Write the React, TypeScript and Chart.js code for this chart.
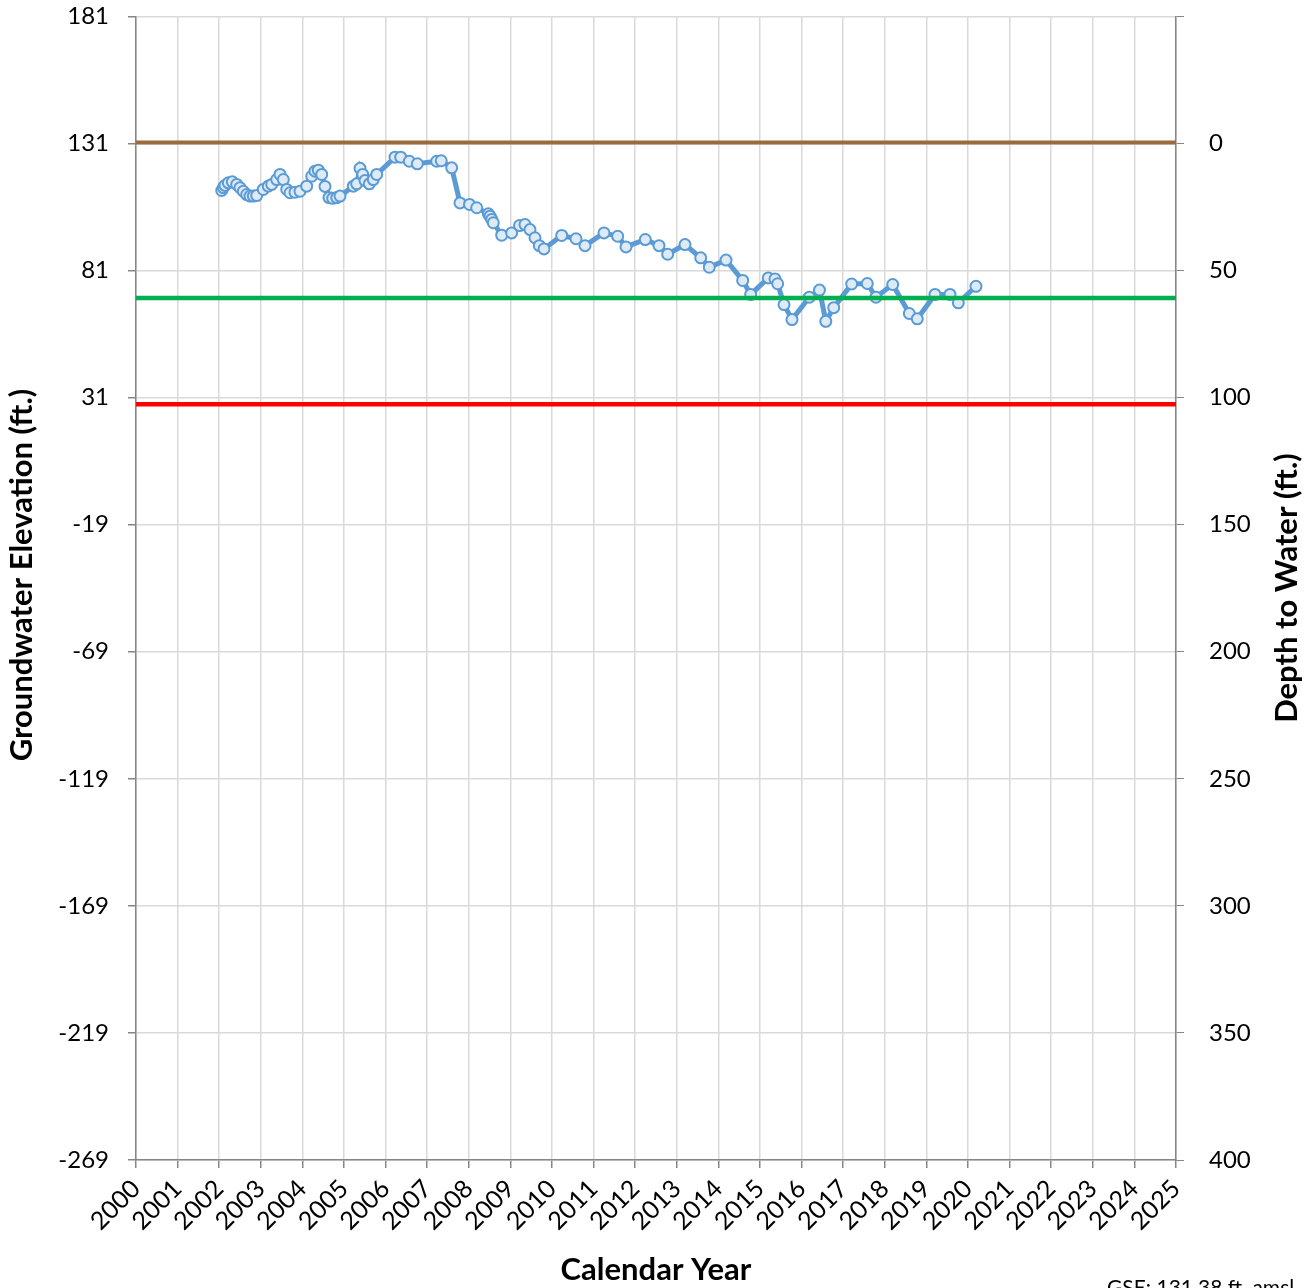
import React, { useEffect, useRef } from "react";
import { Chart, registerables } from "chart.js";

Chart.register(...registerables);

const years = [
  2002.06, 2002.099, 2002.139, 2002.219, 2002.315, 2002.421, 2002.5, 2002.579, 2002.661, 2002.74,
  2002.82, 2002.901, 2003.06, 2003.18, 2003.262, 2003.382, 2003.462, 2003.541, 2003.623, 2003.702,
  2003.822, 2003.942, 2004.103, 2004.224, 2004.303, 2004.382, 2004.464, 2004.543, 2004.639, 2004.728,
  2004.825, 2004.904, 2005.224, 2005.305, 2005.385, 2005.45, 2005.505, 2005.608, 2005.704, 2005.786,
  2006.226, 2006.363, 2006.57, 2006.762, 2007.228, 2007.337, 2007.589, 2007.788, 2008.017, 2008.19,
  2008.469, 2008.51, 2008.551, 2008.589, 2008.791, 2009.031, 2009.219, 2009.351, 2009.471, 2009.591,
  2009.695, 2009.808, 2010.233, 2010.577, 2010.793, 2011.25, 2011.579, 2011.779, 2012.243, 2012.572,
  2012.781, 2013.197, 2013.575, 2013.781, 2014.183, 2014.584, 2014.776, 2015.199, 2015.361, 2015.425,
  2015.577, 2015.769, 2016.185, 2016.43, 2016.582, 2016.772, 2017.204, 2017.579, 2017.788, 2018.19,
  2018.589, 2018.781, 2019.207, 2019.567, 2019.767, 2020.192,
];

const elevations = [
  112.5, 113.6, 114.5, 115.5, 115.9, 114.9, 113.6, 112.2, 110.9, 110.3,
  110.3, 110.5, 112.9, 114.2, 114.9, 116.8, 118.8, 116.8, 112.9, 111.6,
  111.8, 112.2, 114.2, 118.1, 120.1, 120.5, 118.8, 114.1, 109.7, 109.4,
  109.7, 110.3, 114.2, 115.1, 121.2, 118.8, 116.4, 115.1, 116.8, 118.8,
  125.6, 125.6, 124.0, 123.0, 124.0, 124.2, 121.4, 107.6, 107.0, 105.7,
  103.3, 102.4, 101.1, 99.8, 94.9, 95.8, 98.7, 99.1, 97.1, 93.9,
  90.8, 89.5, 94.8, 93.5, 90.8, 95.8, 94.5, 90.3, 93.2, 90.8,
  87.4, 91.2, 86.0, 82.3, 85.1, 77.1, 71.6, 78.1, 77.7, 75.8,
  67.6, 61.7, 70.5, 73.3, 61.0, 66.4, 75.7, 75.9, 70.5, 75.5,
  64.1, 62.0, 71.6, 71.6, 68.3, 74.8,
];

const groundSurface = 131.38;
const greenLevel = 70.2;
const redLevel = 28.4;

const xMin = 2000;
const xMax = 2025;
const elevMin = -269;
const elevMax = 181;
const elevStep = 50;
const depthMin = -50;
const depthMax = 400;
const depthStep = 50;

const leftTitle = "Groundwater Elevation (ft.)";
const rightTitle = "Depth to Water (ft.)";
const bottomTitle = "Calendar Year";
const gseNote = "GSE: 131.38 ft. amsl";

const FONT = "Lato, 'Open Sans', sans-serif";
const SHIFT = 23;
const W = 1314;
const H = 1288;

export default function App() {
  const ref = useRef<HTMLCanvasElement | null>(null);

  useEffect(() => {
    if (!ref.current) return;
    const hline = (y: number) => [
      { x: xMin, y },
      { x: xMax, y },
    ];

    const titles = {
      id: "titles",
      afterDraw(chart: any) {
        const ctx = chart.ctx;
        ctx.save();
        ctx.fillStyle = "#000";
        ctx.font = `bold 31px ${FONT}`;
        ctx.textAlign = "center";
        ctx.textBaseline = "middle";
        ctx.save();
        ctx.translate(22, 575 + SHIFT);
        ctx.rotate(-Math.PI / 2);
        ctx.fillText(leftTitle, 0, 0);
        ctx.restore();
        ctx.save();
        ctx.translate(1287, 588 + SHIFT);
        ctx.rotate(-Math.PI / 2);
        ctx.fillText(rightTitle, 0, 0);
        ctx.restore();
        ctx.fillText(bottomTitle, 656, 1270 + SHIFT);
        ctx.font = `21px ${FONT}`;
        ctx.textAlign = "left";
        ctx.textBaseline = "alphabetic";
        ctx.fillText(gseNote, 1107, 1295 + SHIFT);
        ctx.restore();
      },
    };

    const chart = new Chart(ref.current, {
      type: "scatter",
      data: {
        datasets: [
          {
            data: hline(groundSurface),
            showLine: true,
            borderColor: "#9C6B3C",
            borderWidth: 4,
            pointRadius: 0,
          },
          {
            data: hline(greenLevel),
            showLine: true,
            borderColor: "#00B050",
            borderWidth: 4.5,
            pointRadius: 0,
          },
          {
            data: hline(redLevel),
            showLine: true,
            borderColor: "#FF0000",
            borderWidth: 4.5,
            pointRadius: 0,
          },
          {
            data: years.map((x, i) => ({ x, y: elevations[i] })),
            showLine: true,
            borderColor: "#5B9BD5",
            borderWidth: 5,
            pointRadius: 5.5,
            pointBackgroundColor: "#DEEBF7",
            pointBorderColor: "#5B9BD5",
            pointBorderWidth: 2,
          },
        ],
      },
      options: {
        animation: false,
        responsive: false,
        devicePixelRatio: 1,
        layout: { padding: { top: 0, left: 0, right: 0, bottom: 0 } },
        plugins: {
          legend: { display: false },
          tooltip: { enabled: false },
        },
        scales: {
          x: {
            type: "linear",
            min: xMin,
            max: xMax,
            afterFit: (s: any) => {
              s.height = 128;
            },
            ticks: {
              stepSize: 1,
              autoSkip: false,
              minRotation: 45,
              maxRotation: 45,
              color: "#000",
              padding: 6,
              font: { family: FONT, size: 25 },
              callback: (v: any) => String(v),
            },
            grid: {
              color: "#D9D9D9",
              lineWidth: 1.5,
              tickColor: "#868686",
              tickLength: 8,
            },
            border: { color: "#868686", width: 1.5 },
          },
          y: {
            type: "linear",
            position: "left",
            min: elevMin,
            max: elevMax,
            afterFit: (s: any) => {
              s.width = 136;
            },
            ticks: {
              stepSize: elevStep,
              color: "#000",
              padding: 19,
              font: { family: FONT, size: 24 },
              callback: (v: any) => String(v),
            },
            grid: {
              color: "#D9D9D9",
              lineWidth: 1.5,
              tickColor: "#868686",
              tickLength: 8,
            },
            border: { color: "#868686", width: 1.5 },
          },
          y2: {
            type: "linear",
            position: "right",
            reverse: true,
            min: depthMin,
            max: depthMax,
            afterFit: (s: any) => {
              s.width = 138;
            },
            ticks: {
              stepSize: depthStep,
              color: "#000",
              padding: 25,
              font: { family: FONT, size: 24 },
              callback: (v: any) => (Number(v) < 0 ? "" : String(v)),
            },
            grid: {
              drawOnChartArea: false,
              tickColor: "#868686",
              tickLength: 8,
            },
            border: { color: "#868686", width: 1.5 },
          },
        },
      },
      plugins: [titles],
    } as any);

    return () => chart.destroy();
  }, []);

  return (
    <div style={{ position: "absolute", left: 0, top: 0, width: W, height: H, overflow: "hidden" }}>
      <canvas
        ref={ref}
        width={W}
        height={H + SHIFT}
        style={{ width: W, height: H + SHIFT, display: "block", marginTop: -SHIFT }}
      />
    </div>
  );
}
